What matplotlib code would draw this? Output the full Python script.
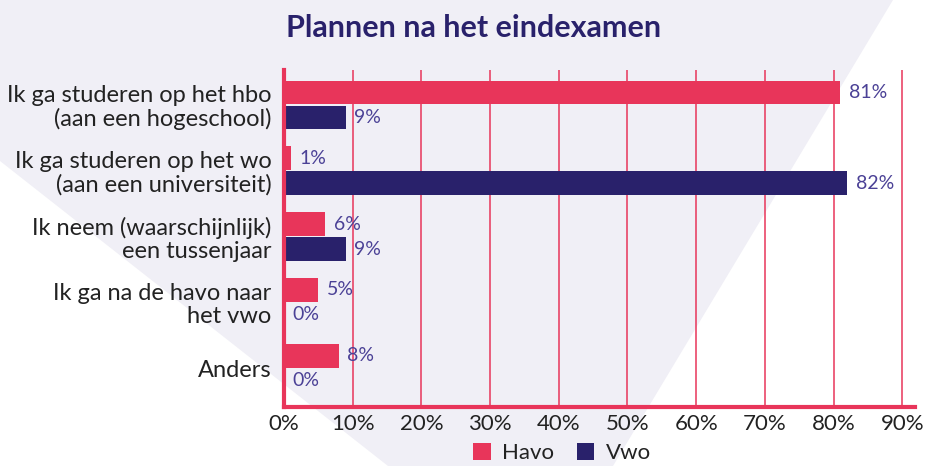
import numpy as np
import matplotlib
matplotlib.use('Agg')
import matplotlib.pyplot as plt
from matplotlib.patches import Polygon, Patch

categories = ['Ik ga studeren op het hbo\n(aan een hogeschool)',
              'Ik ga studeren op het wo\n(aan een universiteit)',
              'Ik neem (waarschijnlijk)\neen tussenjaar',
              'Ik ga na de havo naar\nhet vwo',
              'Anders']
havo = [81, 1, 6, 5, 8]
vwo = [9, 82, 9, 0, 0]
ticks = [0, 10, 20, 30, 40, 50, 60, 70, 80, 90]

pink = '#e8355a'
navy = '#29216b'
label_col = '#4b4196'
text_col = '#222222'

plt.rcParams['font.family'] = ['Lato', 'DejaVu Sans']

W, H = 927, 466
fig = plt.figure(figsize=(W / 100, H / 100), dpi=100, facecolor='white')

# light background shape, in its own axes behind everything
bg = fig.add_axes([0, 0, 1, 1], zorder=-1)
bg.set_xlim(0, W)
bg.set_ylim(H, 0)
bg.axis('off')
pts = [(0, 0), (893, 0), (613, 466), (388, 466), (0, 161)]
bg.add_patch(Polygon(pts, closed=True, facecolor='#f0eff6', edgecolor='none'))

ax = fig.add_axes([284 / W, 1 - 407 / H, 631 / W, 337 / H])
ax.set_facecolor('none')

y = np.arange(len(categories))
h = 0.36
off = 0.19
b1 = ax.barh(y - off, havo, height=h, color=pink, zorder=3)
b2 = ax.barh(y + off, vwo, height=h, color=navy, zorder=3)
ax.bar_label(b1, labels=[f'{v}%' for v in havo], padding=6, color=label_col, fontsize=14)
ax.bar_label(b2, labels=[f'{v}%' for v in vwo], padding=6, color=label_col, fontsize=14)

ax.set_xlim(0, 91.85)
ax.set_ylim(len(categories) - 1 + 0.59, -0.53)
ax.set_xticks(ticks)
ax.set_xticklabels([f'{t}%' for t in ticks], fontsize=16, color=text_col)
ax.set_yticks(y)
ax.set_yticklabels(categories, fontsize=17, color=text_col, linespacing=1.1)
ax.tick_params(axis='both', length=0)
ax.tick_params(axis='y', pad=9)
ax.tick_params(axis='x', pad=5)

for t in ticks[1:]:
    ax.axvline(t, color=pink, lw=1.1, zorder=1)

for s in ['top', 'right']:
    ax.spines[s].set_visible(False)
for s in ['left', 'bottom']:
    ax.spines[s].set_color(pink)
    ax.spines[s].set_linewidth(3)
    ax.spines[s].set_zorder(4)

fig.text(474 / W, 1 - 28 / H, 'Plannen na het eindexamen', ha='center', va='center',
         fontsize=22, fontweight='bold', color=navy)

handles = [Patch(facecolor=pink, label='Havo'), Patch(facecolor=navy, label='Vwo')]
fig.legend(handles=handles, loc='center', bbox_to_anchor=(562 / W, 1 - 453 / H), ncol=2,
           frameon=False, fontsize=16, handlelength=0.8, handleheight=0.8,
           handletextpad=0.5, columnspacing=1.0, labelcolor=text_col)

fig.savefig('out.png', dpi=100, facecolor='white')
